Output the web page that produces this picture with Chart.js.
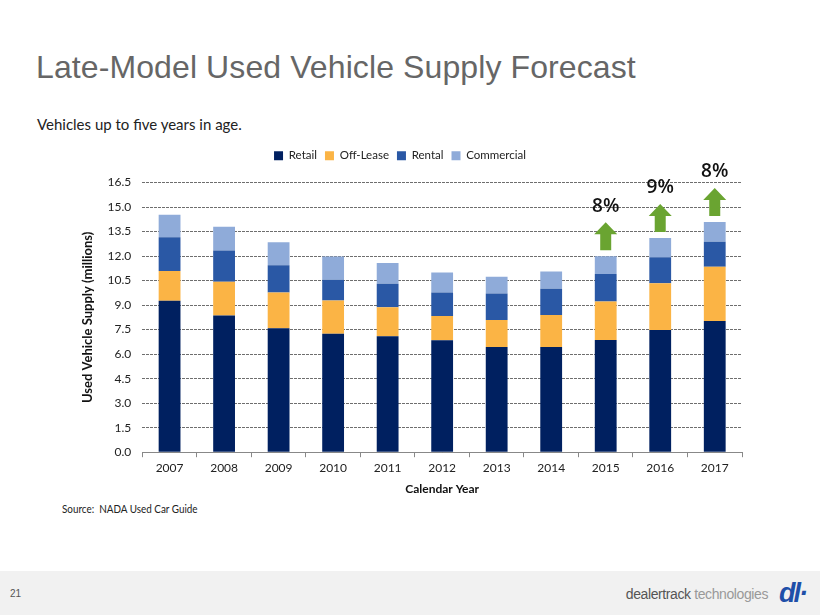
<!DOCTYPE html>
<html>
<head>
<meta charset="utf-8">
<script src="https://cdn.jsdelivr.net/npm/chart.js@4"></script>
<style>
  html, body { margin: 0; padding: 0; background: #fff; }
  body { width: 820px; height: 615px; position: relative; overflow: hidden; font-family: "Liberation Sans", Arial, sans-serif; }
  .title { position: absolute; left: 36px; top: 49px; font-size: 32px; color: #666; letter-spacing: 0.1px; white-space: nowrap; }
  .subtitle { position: absolute; left: 37px; top: 115px; font-family: Lato, sans-serif; font-size: 15px; color: #222; }
  .source { position: absolute; left: 62px; top: 502px; font-family: Lato, sans-serif; font-size: 11.5px; color: #222; transform: scaleX(0.86); transform-origin: left top; white-space: nowrap; }
  #wrap { position: absolute; left: 76px; top: 140px; width: 692px; height: 360px; }
  .footer { position: absolute; left: 0; top: 571px; width: 820px; height: 44px; background: #f1f1f1; }
  .page { position: absolute; left: 10px; top: 17px; font-size: 10px; color: #555; }
  .brand { position: absolute; right: 52px; top: 15px; font-size: 14px; color: #555; letter-spacing: -0.4px; }
  .brand span { color: #999; }
  .logo { position: absolute; right: 14px; top: 7px; font: italic bold 27px "Liberation Sans", sans-serif; color: #1f4fa8; letter-spacing: -2px; }
</style>
</head>
<body>
<div class="title">Late-Model Used Vehicle Supply Forecast</div>
<div class="subtitle">Vehicles up to five years in age.</div>
<div id="wrap"><canvas id="chart"></canvas></div>
<div class="source">Source:&nbsp; NADA Used Car Guide</div>
<div class="footer">
  <div class="page">21</div>
  <div class="brand">dealertrack <span>technologies</span></div>
  <div class="logo">dl·</div>
</div>
<script>
const years = ['2007', '2008', '2009', '2010', '2011', '2012', '2013', '2014', '2015', '2016', '2017'];
const retail = [9.26, 8.37, 7.59, 7.24, 7.10, 6.85, 6.44, 6.44, 6.87, 7.47, 8.02];
const offLease = [1.83, 2.06, 2.18, 2.04, 1.77, 1.48, 1.65, 1.95, 2.35, 2.86, 3.32];
const rental = [2.06, 1.91, 1.67, 1.27, 1.44, 1.44, 1.62, 1.61, 1.68, 1.60, 1.54];
const commercial = [1.37, 1.46, 1.40, 1.42, 1.27, 1.22, 1.03, 1.05, 1.09, 1.18, 1.21];
const growth = ['', '', '', '', '', '', '', '', '8%', '9%', '8%'];

// extra room under the legend, and nudge it left so it sits where the original does
const legendSpacing = {
  id: 'legendSpacing',
  beforeInit(chart) {
    const fit = chart.legend.fit;
    chart.legend.fit = function () {
      fit.bind(chart.legend)();
      this.height += 11;
    };
  },
  afterLayout(chart) {
    chart.legend.left -= 9;
    chart.legend.right -= 9;
  }
};

// green arrows + growth labels above the forecast bars
const growthArrows = {
  id: 'growthArrows',
  afterDatasetsDraw(chart) {
    const ctx = chart.ctx;
    const meta = chart.getDatasetMeta(chart.data.datasets.length - 1);
    ctx.save();
    growth.forEach((label, i) => {
      if (!label) return;
      const bar = meta.data[i];
      const x = bar.x, base = bar.y - 6;
      const tip = base - 28, headBottom = tip + 12;
      ctx.fillStyle = '#6aa431';
      ctx.beginPath();
      ctx.moveTo(x - 5.5, base);
      ctx.lineTo(x - 5.5, headBottom);
      ctx.lineTo(x - 11.5, headBottom);
      ctx.lineTo(x, tip);
      ctx.lineTo(x + 11.5, headBottom);
      ctx.lineTo(x + 5.5, headBottom);
      ctx.lineTo(x + 5.5, base);
      ctx.closePath();
      ctx.fill();
      ctx.fillStyle = '#111';
      ctx.font = '600 19px "Open Sans", sans-serif';
      ctx.textAlign = 'center';
      ctx.textBaseline = 'middle';
      ctx.fillText(label, x, tip - 16);
    });
    ctx.restore();
  }
};

const labelFont = { family: 'Lato, "Open Sans", sans-serif', size: 12 };

new Chart(document.getElementById('chart'), {
  type: 'bar',
  data: {
    labels: years,
    datasets: [
      { label: 'Retail', data: retail, backgroundColor: '#002060' },
      { label: 'Off-Lease', data: offLease, backgroundColor: '#fbb445' },
      { label: 'Rental', data: rental, backgroundColor: '#2a58a5' },
      { label: 'Commercial', data: commercial, backgroundColor: '#8fabd9' }
    ]
  },
  options: {
    responsive: true,
    maintainAspectRatio: false,
    animation: false,
    datasets: { bar: { barPercentage: 0.4, categoryPercentage: 1 } },
    layout: { padding: { left: 0, right: 26, top: 2, bottom: 0 } },
    plugins: {
      legend: {
        position: 'top',
        labels: {
          boxWidth: 9, boxHeight: 9, padding: 8,
          color: '#222', font: { family: 'Lato, sans-serif', size: 11.5 }
        }
      },
      tooltip: { enabled: false }
    },
    scales: {
      x: {
        stacked: true,
        grid: { display: true, offset: true, drawOnChartArea: false, drawTicks: true, tickLength: 5, color: '#888' },
        border: { display: true, color: '#888' },
        ticks: { color: '#222', font: labelFont, padding: 4 },
        title: { display: true, text: 'Calendar Year', color: '#111', font: { family: 'Lato, sans-serif', size: 12, weight: 'bold' }, padding: { top: 2 } }
      },
      y: {
        stacked: true,
        min: 0, max: 16.5,
        ticks: { stepSize: 1.5, color: '#222', font: labelFont, padding: 11, callback: v => v.toFixed(1) },
        grid: { color: '#6e6e6e', drawTicks: false, lineWidth: 1 },
        border: { display: false, dash: [3, 1] },
        title: { display: true, text: 'Used Vehicle Supply (millions)', color: '#111', font: { family: 'Lato, sans-serif', size: 13, weight: 'bold' }, padding: { bottom: 1 } }
      }
    }
  },
  plugins: [legendSpacing, growthArrows]
});
</script>
</body>
</html>
